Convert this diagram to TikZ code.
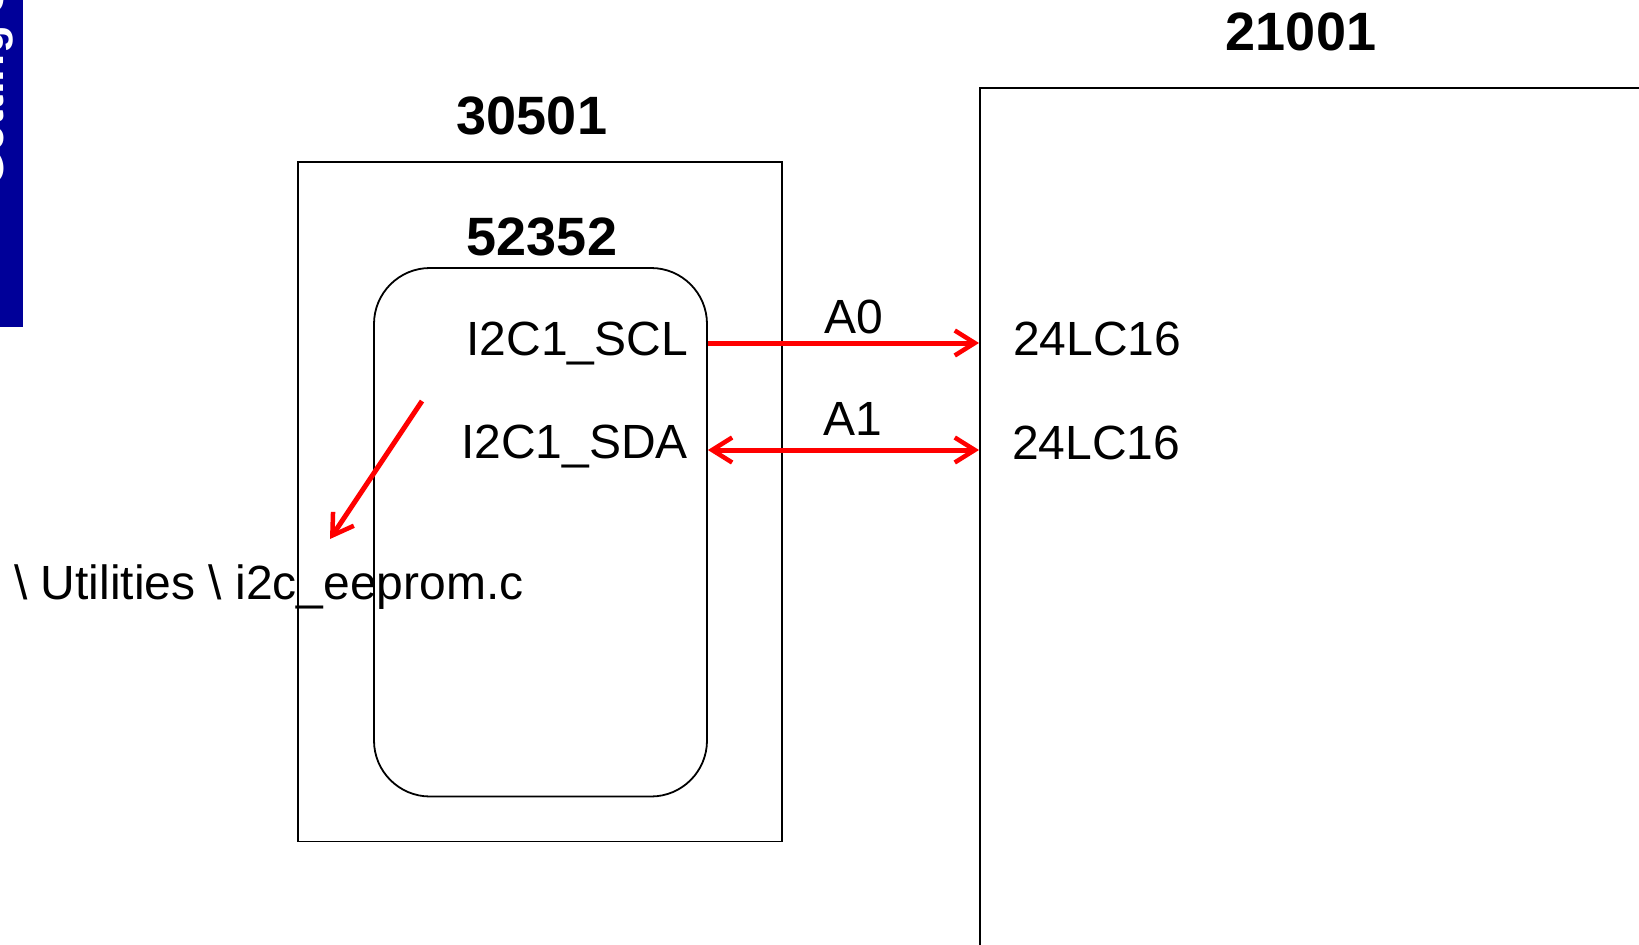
\documentclass[tikz,border=0pt]{standalone}
\usepackage{fontspec}
\setmainfont{Liberation Sans}
\usetikzlibrary{arrows.meta}
\definecolor{barblue}{RGB}{0,0,153}
\begin{document}
\begin{tikzpicture}[x=1pt,y=1pt,
  lbl/.style={font=\fontsize{48}{48}\selectfont, inner sep=0pt},
  ttl/.style={font=\fontsize{54}{54}\selectfont\bfseries, inner sep=0pt, anchor=base},
  frame/.style={draw=black, line width=1.8pt},
  sigtip/.tip={Straight Barb[length=20pt,width=25pt,line width=4.5pt]},
  sig/.style={draw=red, line width=5pt, -sigtip},
  sigboth/.style={draw=red, line width=5pt, sigtip-sigtip}]
\useasboundingbox (0,0) rectangle (1639,-945);
\clip (0,0) rectangle (1639,-945);
% side bar
\begin{scope}
  \clip (0,0) rectangle (23,-327);
  \fill[barblue] (0,0) rectangle (23,-327);
  \node[font=\fontsize{46}{46}\selectfont\bfseries, text=white, inner sep=0pt,
        rotate=90, anchor=base west] (bartext) at (3,-187) {Getting Started};
\end{scope}
% boxes
\node[frame, minimum width=484pt, minimum height=679.5pt, inner sep=0pt] (b30501) at (540,-501.75) {};
\node[frame, rounded corners=56pt, minimum width=333pt, minimum height=528.5pt, inner sep=0pt] (b52352) at (540.5,-532.25) {};
\node[frame, minimum width=700pt, minimum height=900pt, inner sep=0pt, anchor=north west] (b21001) at (979,-87) {};
% titles
\node[ttl] (t30501) at (532,-134) {30501};
\node[ttl] (t52352) at (542,-255) {52352};
\node[ttl] (t21001) at (1301,-50) {21001};
% pin labels
\node[lbl, anchor=base east] (scl) at (688,-355) {I2C1\_SCL};
\node[lbl, anchor=base east] (sda) at (688,-458) {I2C1\_SDA};
\node[lbl, anchor=base west] (ee1) at (1013,-355) {24LC16};
\node[lbl, anchor=base west] (ee2) at (1012,-459) {24LC16};
\node[lbl, anchor=base] (a0) at (854,-333) {A0};
\node[lbl, anchor=base] (a1) at (853,-435) {A1};
\node[lbl, anchor=base west] (util) at (14,-599) {\textbackslash{} Utilities \textbackslash{} i2c\_eeprom.c};
% connector end points
\coordinate (sclL) at (b52352.east |- 0,-343);
\coordinate (sclR) at (b21001.west |- 0,-343);
\coordinate (sdaL) at (b52352.east |- 0,-450);
\coordinate (sdaR) at (b21001.west |- 0,-450);
\coordinate (srcS) at (422,-401);
\coordinate (srcE) at (330,-539);
% connectors
\draw[sig] (sclL) -- (sclR);
\draw[sigboth] (sdaL) -- (sdaR);
\draw[sig] (srcS) -- (srcE);
\end{tikzpicture}
\end{document}
